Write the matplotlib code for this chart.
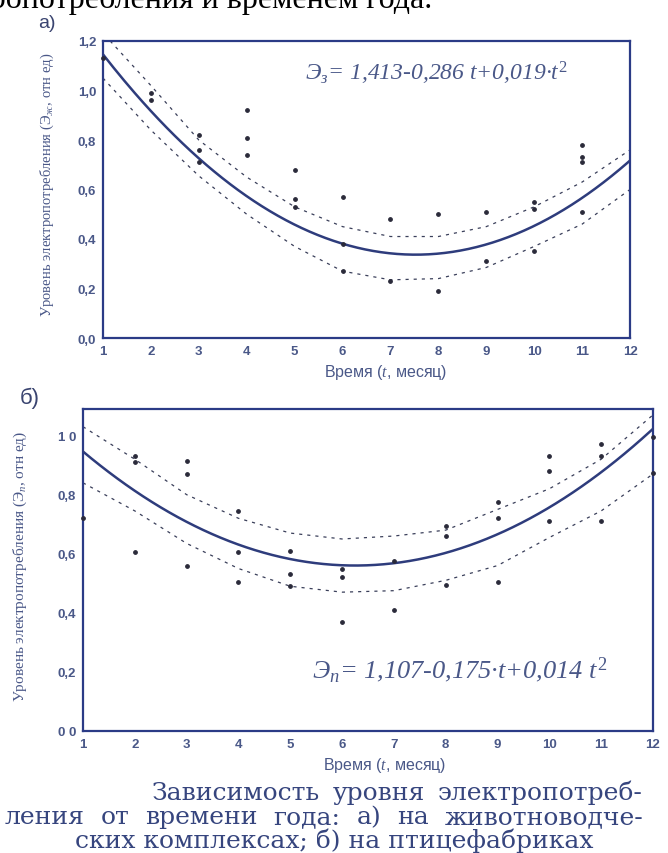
import matplotlib
matplotlib.use("Agg")
import matplotlib.pyplot as plt
import numpy as np

plt.rcParams['mathtext.fontset'] = 'custom'
plt.rcParams['mathtext.rm'] = 'Liberation Serif'
plt.rcParams['mathtext.it'] = 'Liberation Serif:italic'

# ---------------- data: panel a (livestock complexes) ----------------
a_t = [1, 2, 2, 3, 3, 3, 4, 4, 4, 5, 5, 5, 6, 6, 6, 7, 7, 8, 8, 9, 9,
       10, 10, 10, 11, 11, 11, 11]
a_y = [1.13, 0.99, 0.96, 0.82, 0.76, 0.71, 0.92, 0.81, 0.74, 0.68, 0.56, 0.53,
       0.57, 0.38, 0.27, 0.48, 0.23, 0.50, 0.19, 0.51, 0.31,
       0.55, 0.52, 0.35, 0.78, 0.73, 0.71, 0.51]
a_coef = [1.413, -0.286, 0.019]
a_up_t = [1.15, 2, 3, 4, 5, 6, 7, 8, 9, 10, 11, 12]
a_up_y = [1.20, 1.02, 0.80, 0.65, 0.53, 0.45, 0.41, 0.41, 0.45, 0.53, 0.63, 0.76]
a_lo_t = [1, 2, 3, 4, 5, 6, 7, 8, 9, 10, 11, 12]
a_lo_y = [1.05, 0.84, 0.655, 0.50, 0.37, 0.27, 0.235, 0.24, 0.285, 0.37, 0.46, 0.60]

# ---------------- data: panel b (poultry farms) ----------------
b_t = [1, 2, 2, 2, 3, 3, 3, 4, 4, 4, 5, 5, 5, 6, 6, 6, 7, 7, 8, 8, 8,
       9, 9, 9, 10, 10, 10, 11, 11, 11, 12, 12]
b_y = [0.72, 0.93, 0.91, 0.605, 0.915, 0.87, 0.56, 0.745, 0.605, 0.505,
       0.61, 0.53, 0.49, 0.55, 0.52, 0.37, 0.575, 0.41, 0.695, 0.66, 0.495,
       0.775, 0.72, 0.505, 0.93, 0.88, 0.71, 0.97, 0.93, 0.71, 0.995, 0.875]
b_coef = [1.107, -0.175, 0.014]
b_up_t = [1, 2, 3, 4, 5, 6, 7, 8, 9, 10, 11, 12]
b_up_y = [1.03, 0.92, 0.80, 0.72, 0.67, 0.65, 0.66, 0.68, 0.75, 0.82, 0.92, 1.07]
b_lo_t = [1, 2, 3, 4, 5, 6, 7, 8, 9, 10, 11, 12]
b_lo_y = [0.84, 0.745, 0.635, 0.55, 0.49, 0.47, 0.475, 0.51, 0.56, 0.655, 0.745, 0.87]

months = list(range(1, 13))
a_yticks = [0.0, 0.2, 0.4, 0.6, 0.8, 1.0, 1.2]
a_yticklabels = ['0,0', '0,2', '0,4', '0,6', '0,8', '1,0', '1,2']
b_yticks = [0.0, 0.2, 0.4, 0.6, 0.8, 1.0]
b_yticklabels = ['0 0', '0,2', '0,4', '0,6', '0,8', '1 0']

caption_lines = ["Зависимость уровня электропотреб-",
                 "ления от времени года: а) на животноводче-",
                 "ских комплексах; б) на птицефабриках"]

# ---------------- styling ----------------
SPINE = '#2b3b86'
LINE = '#2e3c7c'
TXT = '#4a5888'
CAP = '#36457e'

fig = plt.figure(figsize=(6.68, 8.54), dpi=100)
fig.patch.set_facecolor('white')

W, H = 668.0, 854.0


def make_axes(l, t, r, b):
    return fig.add_axes([l / W, 1 - b / H, (r - l) / W, (b - t) / H])


def draw_panel(ax, pts_t, pts_y, coef, up_t, up_y, lo_t, lo_y, ylim, yticks, ylabels):
    tt = np.linspace(1, 12, 200)
    curve = coef[0] + coef[1] * tt + coef[2] * tt ** 2
    ax.plot(tt, curve, color=LINE, lw=1.8, zorder=3)
    ax.plot(up_t, up_y, color='#3a3f5a', lw=0.9, ls=(0, (2.5, 4)), zorder=2)
    ax.plot(lo_t, lo_y, color='#3a3f5a', lw=0.9, ls=(0, (2.5, 4)), zorder=2)
    ax.scatter(pts_t, pts_y, s=6, color='#2a2a3a', zorder=4, clip_on=False)
    ax.set_xlim(1, 12)
    ax.set_ylim(*ylim)
    ax.set_xticks(months)
    ax.set_xticklabels([str(m) for m in months], fontfamily='Liberation Sans',
                       fontsize=9.5, fontweight='bold', color=TXT)
    ax.set_yticks(yticks)
    ax.set_yticklabels(ylabels, fontfamily='Liberation Sans', fontsize=9.5,
                       fontweight='bold', color=TXT)
    ax.tick_params(length=0, pad=5)
    for s in ax.spines.values():
        s.set_color(SPINE)
        s.set_linewidth(1.6)
    ax.set_facecolor('white')


# panel a
ax1 = make_axes(103, 42, 630, 339)
draw_panel(ax1, a_t, a_y, a_coef, a_up_t, a_up_y, a_lo_t, a_lo_y,
           (0, 1.2), a_yticks, a_yticklabels)
fig.text(305 / W, 1 - 73 / H, r"$Э_{з}$= 1,413-0,286 $t$+0,019·$t^{2}$",
         fontfamily='Liberation Serif', fontstyle='italic', fontsize=17, color=TXT,
         ha='left', va='center')

# panel b
ax2 = make_axes(83, 410, 653, 732)
draw_panel(ax2, b_t, b_y, b_coef, b_up_t, b_up_y, b_lo_t, b_lo_y,
           (0, 1.09), b_yticks, b_yticklabels)
fig.text(312 / W, 1 - 670 / H, r"$Э_{п}$= 1,107-0,175·$t$+0,014 $t^{2}$",
         fontfamily='Liberation Serif', fontstyle='italic', fontsize=19, color=TXT,
         ha='left', va='center')

# axis labels
fig.text(47 / W, 1 - 185 / H, "Уровень электропотребления (Э${}_{ж}$, отн ед)",
         rotation=90, ha='center', va='center', fontfamily='Liberation Serif',
         fontsize=10.5, color=TXT)
fig.text(20 / W, 1 - 566 / H, "Уровень электропотребления (Э${}_{п}$, отн ед)",
         rotation=90, ha='center', va='center', fontfamily='Liberation Serif',
         fontsize=11, color=TXT)
fig.text(386 / W, 1 - 372 / H, "Время ($t$, месяц)", ha='center', va='center',
         fontfamily='Liberation Sans', fontsize=11.5, color=TXT)
fig.text(385 / W, 1 - 766 / H, "Время ($t$, месяц)", ha='center', va='center',
         fontfamily='Liberation Sans', fontsize=11.5, color=TXT)

# panel letters
fig.text(38 / W, 1 - 24 / H, "а)", ha='left', va='center', fontfamily='Liberation Sans',
         fontsize=14, color='#3a4470')
fig.text(20 / W, 1 - 398 / H, "б)", ha='left', va='center', fontfamily='Liberation Sans',
         fontsize=16, color='#3a4470')

# clipped heading line from the page above
fig.text(432 / W, 1 - 8 / H, "электропотребления и временем года.", ha='right',
         va='baseline', fontfamily='Liberation Serif', fontsize=23, color='black')

# caption (justified lines 1-2, centred line 3)
renderer = fig.canvas.get_renderer()
cap_kw = dict(fontfamily='DejaVu Serif', fontsize=18, color=CAP, va='baseline', ha='left')


def justify(line, x0, x1, ybase):
    words = line.split(' ')
    texts = [fig.text(0, 0, w, **cap_kw) for w in words]
    widths = [t.get_window_extent(renderer).width for t in texts]
    gap = (x1 - x0 - sum(widths)) / (len(words) - 1)
    x = x0
    for t, w in zip(texts, widths):
        t.set_position((x / W, 1 - ybase / H))
        x += w + gap


justify(caption_lines[0], 152, 643, 800)
justify(caption_lines[1], 5, 643, 824)
fig.text(334 / W, 1 - 848 / H, caption_lines[2], **dict(cap_kw, ha='center'))

fig.savefig("out.png", dpi=100)
